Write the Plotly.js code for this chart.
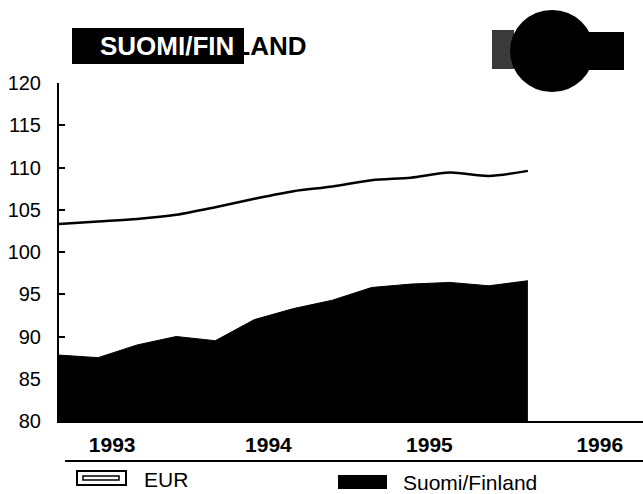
<!DOCTYPE html>
<html>
<head>
<meta charset="utf-8">
<script src="https://cdn.plot.ly/plotly-3.0.1.min.js"></script>
<style>html,body{margin:0;padding:0;background:#fff;}#chart{width:643px;height:494px;}</style>
</head>
<body>
<div id="chart"></div>
<script>
// Quarterly points, 1993 Q1 .. 1996 Q1
var quarters = [1993.00,1993.25,1993.50,1993.75,1994.00,1994.25,1994.50,1994.75,1995.00,1995.25,1995.50,1995.75,1996.00];
var finland = [87.8,87.5,89.0,90.0,89.5,92.0,93.3,94.3,95.8,96.2,96.4,96.0,96.6];
var eur     = [103.3,103.6,103.9,104.4,105.3,106.3,107.2,107.75,108.5,108.8,109.4,109.0,109.6];
var yearLabels = ['1993','1994','1995','1996'];
var yearPos = [1993.34,1994.34,1995.37,1996.46];
var yTicks = [80,85,90,95,100,105,110,115,120];

// pixel helpers (layout only)
var L=59, R=643, T=83, B=421;
function px(x){return (x-L)/(R-L);}
function py(y){return (B-y)/(B-T);}

var traces = [
  {x: quarters, y: finland, type:'scatter', mode:'lines', fill:'tozeroy',
   fillcolor:'#000', line:{color:'#000', width:1}, name:'Suomi/Finland', showlegend:false, hoverinfo:'skip'},
  {x: quarters, y: eur, type:'scatter', mode:'lines', line:{color:'#000', width:2.5, shape:'spline', smoothing:0.8},
   name:'EUR', showlegend:false, hoverinfo:'skip'}
];

var font = 'Liberation Sans, Arial, Helvetica, sans-serif';
var layout = {
  width:643, height:494,
  margin:{l:L, r:643-R, t:T, b:494-B},
  paper_bgcolor:'#fff', plot_bgcolor:'#fff',
  showlegend:false,
  xaxis:{range:[1993.0, 1993.0 + (R-L)/156.3], showgrid:false, zeroline:false,
    showline:true, linecolor:'#000', linewidth:1.5,
    tickmode:'array', tickvals:yearPos, ticktext:yearLabels, ticks:'',
    ticklabelstandoff:4,
    tickfont:{family:font, size:21, color:'#000', weight:'bold'}},
  yaxis:{range:[80,120], showgrid:false, zeroline:false,
    showline:true, linecolor:'#000', linewidth:2,
    tickmode:'array', tickvals:yTicks, ticks:'inside', ticklen:6, tickwidth:2, tickcolor:'#000',
    ticklabelstandoff:12,
    tickfont:{family:font, size:20, color:'#000'}},
  shapes:[
    // title block
    {type:'rect', xref:'paper', yref:'paper', x0:px(72), x1:px(244), y0:py(64), y1:py(28), fillcolor:'#000', line:{width:0}, layer:'below'},
    // logo
    {type:'rect', xref:'paper', yref:'paper', x0:px(492), x1:px(514), y0:py(69), y1:py(30), fillcolor:'#3a3a3a', line:{width:0}},
    {type:'rect', xref:'paper', yref:'paper', x0:px(588), x1:px(624), y0:py(70), y1:py(32), fillcolor:'#000', line:{width:0}},
    {type:'circle', xref:'paper', yref:'paper', x0:px(510), x1:px(594), y0:py(92), y1:py(10), fillcolor:'#000', line:{width:0}},
    // separator line under years
    {type:'line', xref:'paper', yref:'paper', x0:px(65), x1:px(643), y0:py(461), y1:py(461), line:{color:'#000', width:2}},
    // legend EUR symbol
    {type:'rect', xref:'paper', yref:'paper', x0:px(77), x1:px(126), y0:py(485), y1:py(471), fillcolor:'#fff', line:{color:'#000', width:2}},
    {type:'rect', xref:'paper', yref:'paper', x0:px(83), x1:px(119), y0:py(480), y1:py(476), fillcolor:'#fff', line:{color:'#000', width:1.5}},
    // legend Finland symbol
    {type:'rect', xref:'paper', yref:'paper', x0:px(338), x1:px(387), y0:py(489), y1:py(475), fillcolor:'#000', line:{width:0}}
  ],
  annotations:[
    {xref:'paper', yref:'paper', x:px(98), y:py(46), xanchor:'left', yanchor:'middle', showarrow:false,
     text:'<span style="color:#fff">SUOMI/FIN</span>LAND', font:{family:font, size:26, color:'#000', weight:'bold'}},
    {xref:'paper', yref:'paper', x:px(142), y:py(480), xanchor:'left', yanchor:'middle', showarrow:false,
     text:'EUR', font:{family:font, size:21, color:'#000'}},
    {xref:'paper', yref:'paper', x:px(401), y:py(482), xanchor:'left', yanchor:'middle', showarrow:false,
     text:'Suomi/Finland', font:{family:font, size:21, color:'#000'}}
  ]
};

Plotly.newPlot('chart', traces, layout, {staticPlot:true, displayModeBar:false});
</script>
</body>
</html>
